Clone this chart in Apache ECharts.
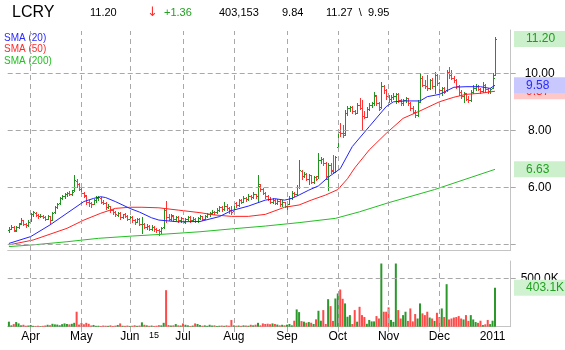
<!DOCTYPE html>
<html>
<head>
<meta charset="utf-8">
<title>LCRY</title>
<script src="https://cdn.jsdelivr.net/npm/echarts@6/dist/echarts.min.js"></script>
<style>
  html, body { margin: 0; padding: 0; background: #fff; }
  #chart { width: 565px; height: 350px; }
</style>
</head>
<body>
<div id="chart"></div>
<script>
// ---- Daily bars, 2010-03-19 .. 2011-01-04 ----
const ticker = 'LCRY';
const firstSession = '2010-03-19';
const marketHolidays = ['2010-04-02', '2010-05-31', '2010-07-05', '2010-09-06', '2010-11-25', '2010-12-24'];
const sessionSlots = 208;   // trading sessions spanned by the time axis

const opens = [
  4.50,4.55,4.60,4.50,4.62,4.75,4.84,4.70,4.66,4.85,
  5.05,5.10,5.02,4.98,5.00,4.95,4.90,4.98,4.86,5.12,
  5.30,5.44,5.62,5.70,5.75,5.80,5.78,5.90,6.22,6.10,
  5.95,5.80,5.70,5.50,5.44,5.42,5.55,5.62,5.64,5.50,
  5.45,5.30,5.34,5.20,5.15,5.04,5.10,4.96,5.05,5.00,
  4.90,4.95,4.84,4.80,4.90,4.70,4.72,4.60,4.65,4.55,
  4.60,4.52,4.50,4.45,4.60,5.20,4.95,4.90,5.00,4.88,
  4.95,4.85,4.92,4.80,4.88,4.95,4.85,4.90,4.82,4.92,
  4.98,4.90,5.00,5.05,5.10,5.15,5.12,5.22,5.30,5.25,
  5.35,5.28,5.20,5.16,5.45,5.38,5.55,5.50,5.62,5.58,
  5.70,5.65,5.75,5.70,6.05,5.95,5.80,5.70,5.60,5.50,
  5.55,5.45,5.52,5.40,5.48,5.34,5.42,5.62,5.80,5.76,
  6.00,6.58,6.40,6.48,6.30,6.42,6.20,6.35,6.40,6.95,
  6.98,6.84,6.30,6.78,6.60,6.55,7.40,7.95,7.90,7.90,
  8.60,8.78,8.80,8.68,8.62,8.90,8.78,8.50,8.48,8.75,
  8.90,8.95,9.20,8.95,8.80,9.55,9.40,9.20,9.10,9.18,
  9.20,9.28,9.05,8.95,9.05,9.12,8.95,8.78,8.65,8.55,
  9.00,9.85,9.60,9.55,9.50,9.75,9.55,9.95,9.65,9.40,
  9.50,9.40,10.05,9.95,9.85,9.75,9.55,9.35,9.20,9.30,
  9.10,9.05,9.35,9.50,9.55,9.45,9.38,9.60,9.45,9.38,
  9.50,9.95
];
const highs = [
  4.62,4.66,4.63,4.65,4.76,4.92,4.86,4.74,4.84,5.10,
  5.16,5.12,5.05,5.06,5.02,4.98,5.04,5.00,5.14,5.34,
  5.46,5.66,5.74,5.80,5.84,5.86,5.90,6.43,6.30,6.14,
  6.00,5.84,5.72,5.56,5.50,5.60,5.68,5.70,5.66,5.54,
  5.48,5.40,5.36,5.24,5.18,5.14,5.12,5.08,5.10,5.02,
  5.00,4.98,4.88,4.94,4.92,4.97,4.75,4.70,4.68,4.66,
  4.64,4.56,4.53,4.62,5.27,5.53,5.05,5.06,5.04,5.00,
  4.98,4.96,4.94,4.92,5.00,4.98,4.95,4.92,4.96,5.04,
  5.00,5.04,5.10,5.14,5.20,5.18,5.28,5.36,5.34,5.48,
  5.40,5.32,5.34,5.50,5.48,5.60,5.58,5.68,5.66,5.76,
  5.74,5.82,5.78,6.43,6.10,5.98,5.84,5.74,5.66,5.62,
  5.58,5.58,5.54,5.54,5.50,5.48,5.68,5.86,5.84,6.08,
  6.95,6.62,6.52,6.50,6.46,6.44,6.40,6.40,7.19,7.06,
  7.02,6.88,6.84,6.86,7.12,7.10,8.00,8.25,8.20,8.70,
  8.84,8.86,8.84,8.72,8.96,9.12,9.06,8.66,8.80,8.96,
  9.00,9.36,9.24,9.00,9.70,9.59,9.45,9.25,9.24,9.30,
  9.32,9.30,9.10,9.10,9.18,9.15,9.00,8.85,8.70,9.05,
  10.00,9.90,9.78,9.94,9.80,9.85,10.06,9.98,9.70,9.53,
  9.52,10.10,10.23,10.10,9.92,9.80,9.60,9.40,9.36,9.32,
  9.20,9.40,9.59,9.62,9.60,9.50,9.70,9.64,9.48,9.47,
  10.00,11.27
];
const lows = [
  4.42,4.52,4.45,4.47,4.58,4.72,4.66,4.60,4.64,4.82,
  5.00,4.98,4.94,4.95,4.92,4.86,4.88,4.75,4.84,5.10,
  5.26,5.40,5.58,5.64,5.70,5.72,5.74,5.88,6.00,5.90,
  5.74,5.66,5.42,5.36,5.30,5.40,5.50,5.56,5.46,5.40,
  5.24,5.26,5.14,5.08,4.98,5.00,4.90,4.92,4.95,4.84,
  4.86,4.80,4.72,4.78,4.66,4.40,4.56,4.55,4.50,4.50,
  4.48,4.44,4.33,4.40,4.58,4.79,4.85,4.86,4.82,4.84,
  4.80,4.80,4.74,4.76,4.84,4.80,4.82,4.78,4.80,4.88,
  4.86,4.88,4.96,5.00,5.06,5.06,5.10,5.18,5.18,5.22,
  5.22,5.10,5.08,5.14,5.32,5.36,5.44,5.48,5.52,5.56,
  5.60,5.62,5.64,5.50,5.88,5.76,5.64,5.54,5.44,5.46,
  5.40,5.42,5.34,5.36,5.30,5.20,5.40,5.58,5.70,5.74,
  5.98,6.30,6.36,6.26,6.10,6.16,6.14,6.24,6.32,6.86,
  6.78,6.30,5.90,6.50,6.50,6.52,7.37,7.80,7.75,7.85,
  8.55,8.68,8.62,8.56,8.60,8.74,8.00,8.42,8.46,8.70,
  8.80,8.90,8.90,8.70,8.78,9.30,9.10,9.00,9.02,9.10,
  8.95,9.00,8.90,8.90,9.00,8.90,8.70,8.60,8.48,8.50,
  9.00,9.55,9.50,9.41,9.45,9.50,9.30,9.60,9.30,9.24,
  9.30,9.38,9.85,9.80,9.70,9.50,9.25,9.15,9.00,9.05,
  9.00,9.04,9.30,9.40,9.40,9.30,9.36,9.35,9.30,9.32,
  9.48,9.95
];
const closes = [
  4.55,4.62,4.48,4.60,4.72,4.86,4.70,4.66,4.80,5.05,
  5.12,5.02,4.98,5.00,4.95,4.90,5.00,4.85,5.10,5.30,
  5.42,5.62,5.70,5.75,5.80,5.78,5.85,6.25,6.10,5.95,
  5.80,5.72,5.50,5.45,5.40,5.55,5.62,5.65,5.50,5.45,
  5.30,5.35,5.20,5.15,5.05,5.10,4.95,5.05,5.00,4.90,
  4.95,4.85,4.80,4.90,4.70,4.72,4.60,4.65,4.55,4.62,
  4.52,4.50,4.45,4.58,5.20,4.95,4.90,5.02,4.88,4.95,
  4.85,4.92,4.80,4.88,4.95,4.85,4.90,4.82,4.92,4.98,
  4.90,5.00,5.05,5.10,5.15,5.12,5.22,5.30,5.25,5.35,
  5.28,5.20,5.15,5.45,5.38,5.55,5.50,5.62,5.58,5.70,
  5.65,5.75,5.70,6.10,5.95,5.80,5.70,5.60,5.50,5.55,
  5.45,5.52,5.40,5.48,5.35,5.42,5.62,5.80,5.76,6.00,
  6.60,6.40,6.48,6.30,6.42,6.20,6.35,6.28,6.95,6.98,
  6.84,6.40,6.78,6.58,6.55,7.05,7.95,7.90,7.85,8.60,
  8.78,8.82,8.68,8.60,8.90,8.78,8.50,8.48,8.75,8.90,
  8.95,9.25,8.95,8.75,9.55,9.40,9.20,9.10,9.18,9.22,
  9.28,9.05,8.95,9.05,9.12,8.95,8.78,8.65,8.55,9.00,
  9.85,9.60,9.55,9.50,9.75,9.55,9.95,9.65,9.40,9.50,
  9.35,10.05,9.95,9.85,9.75,9.55,9.35,9.20,9.30,9.10,
  9.05,9.35,9.50,9.55,9.45,9.38,9.60,9.45,9.38,9.44,
  9.84,11.20
];
const volumes = [
  52000,14000,27000,48000,34000,14000,20000,10000,12000,18000,
  9000,8000,10000,6000,9000,12000,20000,15000,30000,24000,
  22000,15000,26000,34000,28000,24000,30000,40000,155000,22000,
  38000,25000,40000,30000,12000,18000,9000,10000,8000,12000,
  10000,9000,14000,8000,11000,18000,34000,10000,9000,12000,
  8000,10000,15000,9000,12000,45000,20000,14000,9000,12000,
  8000,10000,16000,14000,40000,378000,17000,12000,14000,27000,
  14000,12000,34000,20000,14000,8000,12000,34000,28000,17000,
  10000,14000,9000,20000,12000,14000,8000,10000,12000,9000,
  14000,10000,69000,14000,10000,12000,9000,14000,12000,10000,
  20000,14000,21000,40000,14000,34000,28000,31000,26000,34000,
  28000,22000,14000,20000,14000,21000,28000,14000,62000,179000,
  151000,58000,52000,41000,48000,41000,28000,76000,165000,62000,
  172000,28000,285000,213000,60000,292000,344000,385000,289000,241000,
  103000,120000,28000,172000,52000,206000,120000,100000,30000,70000,
  55000,55000,110000,85000,654000,155000,155000,200000,70000,50000,
  654000,172000,85000,120000,155000,60000,189000,55000,131000,85000,
  241000,138000,120000,155000,95000,85000,60000,144000,100000,189000,
  100000,440000,75000,85000,95000,100000,110000,85000,75000,120000,
  60000,120000,75000,48000,40000,62000,17000,25000,70000,27000,
  62000,403153
];

// Moving averages as [session index, value]
const sma20 = [
  [0,4.03],[9,4.27],[17,4.68],[24,5.09],[31,5.50],[35,5.61],[38,5.67],[40,5.64],
  [44,5.50],[50,5.26],[54,5.13],[59,4.93],[62,4.85],[70,4.79],[79,4.80],[87,4.97],
  [92,5.18],[99,5.34],[106,5.55],[110,5.60],[114,5.55],[117,5.61],[120,5.73],[124,5.90],
  [128,6.05],[132,6.35],[137,6.65],[142,7.43],[149,8.13],[156,8.83],[159,9.00],[164,9.03],
  [170,9.03],[173,9.18],[178,9.26],[184,9.51],[189,9.53],[195,9.53],[199,9.47],[201,9.58]
];
const sma50 = [
  [0,3.98],[10,4.15],[24,4.56],[31,4.85],[38,5.09],[44,5.26],[50,5.30],[55,5.30],
  [62,5.28],[70,5.20],[79,5.11],[85,5.03],[92,4.98],[99,4.98],[106,5.05],[114,5.30],
  [120,5.38],[125,5.55],[131,5.73],[136,5.92],[140,6.30],[143,6.68],[149,7.31],[156,7.89],
  [163,8.42],[170,8.68],[178,9.00],[184,9.16],[189,9.26],[195,9.30],[201,9.37]
];
const sma200 = [
  [0,3.92],[10,3.98],[24,4.09],[37,4.21],[51,4.29],[65,4.36],[79,4.44],[92,4.54],
  [106,4.64],[120,4.76],[135,4.91],[145,5.14],[157,5.46],[176,5.92],[201,6.63]
];

const priceGridValues = [4, 6, 8, 10];
const priceLabelValues = [6, 8, 10];
const volumeGridValues = [500000];
const dayMarks = { '2010-06-15': '15' };
const monthNames = ['Jan','Feb','Mar','Apr','May','Jun','Jul','Aug','Sep','Oct','Nov','Dec'];

// ---- helpers ----
function tradingSessions(start, count, skip) {
  const out = [];
  const d = new Date(start + 'T00:00:00Z');
  while (out.length < count) {
    const wd = d.getUTCDay();
    const s = d.toISOString().slice(0, 10);
    if (wd !== 0 && wd !== 6 && skip.indexOf(s) < 0) out.push(s);
    d.setUTCDate(d.getUTCDate() + 1);
  }
  return out;
}
const sessions = tradingSessions(firstSession, sessionSlots, marketHolidays);

// month starts (labels) and which ones get a grid line
const axisText = {};
const monthLines = [];
sessions.forEach((s, i) => {
  if (i === 0) return;
  if (s.slice(0, 7) !== sessions[i - 1].slice(0, 7)) {
    const m = +s.slice(5, 7) - 1;
    if (m === 0) {
      axisText[i] = s.slice(0, 4);
    } else {
      axisText[i] = monthNames[m];
      monthLines.push(s);
    }
  }
  if (dayMarks[s]) axisText[i] = '{d|' + dayMarks[s] + '}';
});

// up/down colouring against the prior close
const direction = closes.map((c, i) => (c >= (i ? closes[i - 1] : opens[i]) ? 1 : -1));
const UP = '#229222', DOWN = '#ff3434';
const VOL_UP = '#2a982a', VOL_DOWN = '#ff4a4a';
const GRID = '#a8a8a8', AXIS = '#c4c4c4';
const FONT = '"Liberation Sans", Arial, sans-serif';

const ohlcRows = closes.map((c, i) => [i, opens[i], highs[i], lows[i], c, direction[i]]);
const volumeRows = volumes.map((v, i) => ({
  value: [i, v],
  itemStyle: { color: direction[i] > 0 ? VOL_UP : VOL_DOWN }
}));
const last = closes.length - 1;

// volume shown in thousands with one decimal, truncated
const kilo = (v) => (Math.floor(v / 100) / 10).toFixed(1) + 'K';

function boxLabel(text, color, bg) {
  return {
    show: true, position: 'right', distance: 19,
    formatter: text, color: color, backgroundColor: bg,
    fontSize: 12, fontFamily: FONT, padding: [2, 22, 1, 12], lineHeight: 13
  };
}

const chart = echarts.init(document.getElementById('chart'), null, { renderer: 'canvas' });

chart.setOption({
  animation: false,
  textStyle: { fontFamily: FONT },
  graphic: [
    { type: 'text', x: 12, y: 13, style: { text: ticker, font: '16px ' + FONT, fill: '#000', verticalAlign: 'middle' } },
    { type: 'text', x: 90, y: 13, style: { text: closes[last].toFixed(2), font: '11px ' + FONT, fill: '#000', verticalAlign: 'middle' } },
    { type: 'text', x: 147, y: 13, style: { text: '\u2193', font: '13px "DejaVu Sans", ' + FONT, fill: '#ff3030', verticalAlign: 'middle' } },
    { type: 'text', x: 164, y: 13, style: { text: '+' + (closes[last] - closes[last - 1]).toFixed(2), font: '11px ' + FONT, fill: '#22a022', verticalAlign: 'middle' } },
    { type: 'text', x: 219, y: 13, style: { text: volumes[last].toLocaleString('en-US'), font: '11px ' + FONT, fill: '#000', verticalAlign: 'middle' } },
    { type: 'text', x: 282, y: 13, style: { text: closes[last - 1].toFixed(2), font: '11px ' + FONT, fill: '#000', verticalAlign: 'middle' } },
    { type: 'text', x: 326, y: 13, style: { text: highs[last].toFixed(2) + '  \\  ' + lows[last].toFixed(2), font: '11px ' + FONT, fill: '#000', verticalAlign: 'middle' } }
  ],
  legend: {
    orient: 'vertical', left: -1, top: 32, padding: 0,
    itemWidth: 0, itemHeight: 12, itemGap: 0.6, icon: 'none',
    selectedMode: false,
    textStyle: { fontSize: 10, fontFamily: FONT, padding: 0 },
    data: [
      { name: 'SMA (20)', textStyle: { color: '#2a2aff' } },
      { name: 'SMA (50)', textStyle: { color: '#ff2a2a' } },
      { name: 'SMA (200)', textStyle: { color: '#22c022' } }
    ]
  },
  grid: [
    { left: 7.7, right: 54.3, top: 30, height: 220 },
    { left: 7.7, right: 54.3, top: 261, height: 65.7 },
    { left: 7.7, right: 54.3, top: 31, bottom: 18 }
  ],
  xAxis: [
    {
      type: 'category', gridIndex: 0, data: sessions, boundaryGap: true,
      axisLine: { show: true, onZero: false, lineStyle: { color: AXIS } },
      axisTick: { show: false }, axisLabel: { show: false }, splitLine: { show: false }
    },
    {
      type: 'category', gridIndex: 1, data: sessions, boundaryGap: true,
      axisLine: { show: true, onZero: false, lineStyle: { color: AXIS } },
      axisTick: { show: false }, splitLine: { show: false },
      axisLabel: {
        show: true, margin: 4, fontSize: 12, color: '#000', hideOverlap: false,
        interval: (idx) => axisText[idx] !== undefined,
        formatter: (val, idx) => axisText[idx] || '',
        rich: { d: { fontSize: 9, color: '#000', padding: [0, 0, 3, 0] } }
      }
    },
    {
      type: 'category', gridIndex: 2, data: sessions, boundaryGap: true, show: false
    }
  ],
  yAxis: [
    {
      type: 'value', gridIndex: 0, position: 'right', min: 3.8, max: 3.8 + 220 / 28.5,
      axisLine: { show: true, lineStyle: { color: AXIS } },
      axisTick: { show: true, length: 5, customValues: priceGridValues, lineStyle: { color: GRID } },
      axisLabel: {
        show: true, customValues: priceLabelValues, align: 'center', margin: 29,
        fontSize: 12, color: '#000', formatter: (v) => v.toFixed(2)
      },
      splitLine: { show: false }
    },
    {
      type: 'value', gridIndex: 1, position: 'right', min: 0, max: 680000,
      axisLine: { show: true, lineStyle: { color: AXIS } },
      axisTick: { show: true, length: 5, customValues: volumeGridValues, lineStyle: { color: GRID } },
      axisLabel: {
        show: true, customValues: volumeGridValues, align: 'center', margin: 29,
        fontSize: 12, color: '#000', formatter: (v) => kilo(v)
      },
      splitLine: { show: false }
    },
    { type: 'value', gridIndex: 2, min: 0, max: 1, show: false }
  ],
  series: [
    {
      // month grid lines through both panels
      name: 'months', type: 'line', xAxisIndex: 2, yAxisIndex: 2, data: [], z: 0,
      markLine: {
        silent: true, symbol: 'none', label: { show: false },
        lineStyle: { color: GRID, type: [5, 4], width: 1 },
        data: monthLines.map((s) => ({ xAxis: s }))
      }
    },
    {
      // price grid lines
      name: 'priceGrid', type: 'line', xAxisIndex: 0, yAxisIndex: 0, data: [], z: 0,
      markLine: {
        silent: true, symbol: 'none', label: { show: false },
        lineStyle: { color: GRID, type: [5, 3], width: 1 },
        data: priceGridValues.map((v) => ({ yAxis: v }))
      }
    },
    {
      name: 'price', type: 'custom', xAxisIndex: 0, yAxisIndex: 0, data: ohlcRows, z: 3,
      encode: { x: 0, y: [1, 2, 3, 4] },
      renderItem: (params, api) => {
        const i = api.value(0);
        const o = api.coord([i, api.value(1)]);
        const h = api.coord([i, api.value(2)]);
        const l = api.coord([i, api.value(3)]);
        const c = api.coord([i, api.value(4)]);
        const color = api.value(5) > 0 ? UP : DOWN;
        const px = Math.round(h[0]);
        const oy = Math.round(o[1]) + 0.5, cy = Math.round(c[1]) + 0.5;
        const st = { stroke: color, lineWidth: 1 };
        return {
          type: 'group',
          children: [
            { type: 'line', shape: { x1: px + 0.5, y1: Math.round(h[1]), x2: px + 0.5, y2: Math.round(l[1]) + 1 }, style: st },
            { type: 'line', shape: { x1: px - 1, y1: oy, x2: px, y2: oy }, style: st },
            { type: 'line', shape: { x1: px + 1, y1: cy, x2: px + 2, y2: cy }, style: st }
          ]
        };
      }
    },
    {
      name: 'SMA (200)', type: 'line', xAxisIndex: 0, yAxisIndex: 0, data: sma200, z: 4,
      showSymbol: false, symbol: 'none', lineStyle: { color: '#22c022', width: 1 }, itemStyle: { color: '#22c022' },
      endLabel: boxLabel((p) => p.value[1].toFixed(2), '#22a022', '#ccf0cc')
    },
    {
      name: 'SMA (50)', type: 'line', xAxisIndex: 0, yAxisIndex: 0, data: sma50, z: 4,
      showSymbol: false, symbol: 'none', lineStyle: { color: '#ff2222', width: 1 }, itemStyle: { color: '#ff2222' },
      endLabel: boxLabel((p) => p.value[1].toFixed(2), '#ff2222', '#ffc8c8')
    },
    {
      name: 'SMA (20)', type: 'line', xAxisIndex: 0, yAxisIndex: 0, data: sma20, z: 5,
      showSymbol: false, symbol: 'none', lineStyle: { color: '#2222ff', width: 1 }, itemStyle: { color: '#2222ff' },
      endLabel: boxLabel((p) => p.value[1].toFixed(2), '#2a2aff', '#c8c8ff'),
      markPoint: {
        silent: true, symbol: 'circle', symbolSize: 0.1,
        itemStyle: { color: 'transparent' },
        label: boxLabel((p) => p.value.toFixed(2), '#1e9a1e', '#ccf0cc'),
        data: [{ coord: [last, closes[last]], value: closes[last] }]
      }
    },
    {
      name: 'volume', type: 'bar', xAxisIndex: 1, yAxisIndex: 1, data: volumeRows, barWidth: 2, z: 3,
      markLine: {
        silent: true, symbol: 'none', label: { show: false },
        lineStyle: { color: GRID, type: [5, 3], width: 1 },
        data: volumeGridValues.map((v) => ({ yAxis: v }))
      },
      markPoint: {
        silent: true, symbol: 'circle', symbolSize: 0.1,
        itemStyle: { color: 'transparent' },
        label: boxLabel((p) => kilo(p.value), '#22a022', '#d0f2d0'),
        data: [{ coord: [last, volumes[last]], value: volumes[last] }]
      }
    }
  ]
});
</script>
</body>
</html>
